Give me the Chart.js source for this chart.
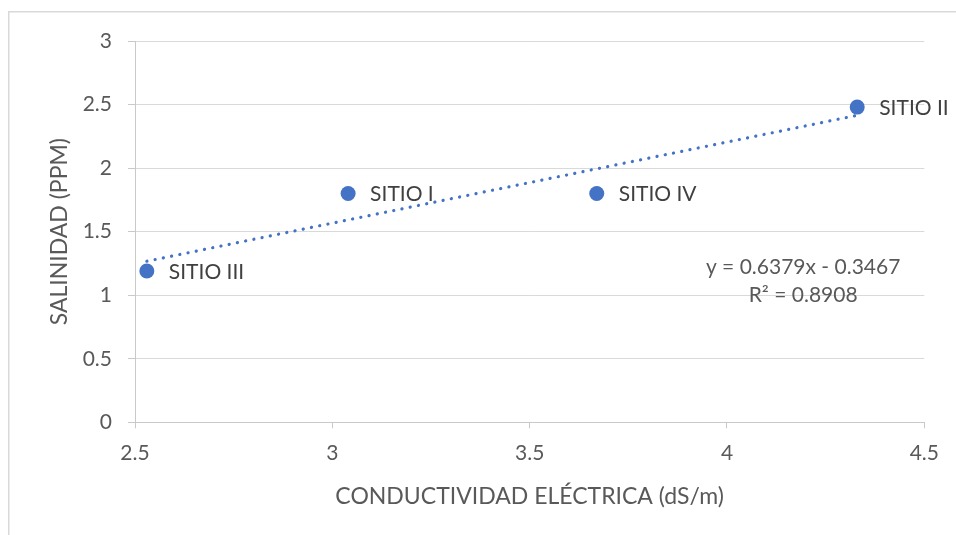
<!DOCTYPE html>
<html>
<head>
<meta charset="utf-8">
<script src="https://cdn.jsdelivr.net/npm/chart.js@4/dist/chart.umd.min.js"></script>
<style>
  html, body { margin: 0; padding: 0; background: #ffffff; }
  canvas { display: block; }
</style>
</head>
<body>
<canvas id="chart" width="956" height="535"></canvas>
<script>
// Sampling sites: electrical conductivity (dS/m) vs salinity (ppm)
const siteNames = ['SITIO I', 'SITIO II', 'SITIO III', 'SITIO IV'];
const conductivity = [3.04, 4.33, 2.53, 3.67];
const salinity = [1.80, 2.48, 1.19, 1.80];

// Linear trendline as reported on the chart
const trendSlope = 0.6379;
const trendIntercept = -0.3467;
const trendR2 = 0.8908;

// Axis ranges and tick steps
const xRange = [2.5, 4.5];
const yRange = [0, 3];
const xStep = 0.5;
const yStep = 0.5;

const FONT = 'Lato';
const INK = '#595959';
const LABEL_INK = '#404040';
const GRID = '#d9d9d9';
const AXIS = '#c9c9c9';
const MARKER = '#4472C4';

const points = conductivity.map((x, i) => ({ x: x, y: salinity[i] }));
const xMin = Math.min(...conductivity);
const xMax = Math.max(...conductivity);
const trendPoints = [xMin, xMax].map(x => ({ x: x, y: trendSlope * x + trendIntercept }));

// Tick text without trailing zeros (3, 2.5, 2 ...)
const plainNumber = v => String(Number(Number(v).toFixed(2)));

// Light frame around the whole chart
const framePlugin = {
  id: 'frame',
  beforeDraw(chart) {
    const ctx = chart.ctx;
    ctx.save();
    ctx.fillStyle = '#ffffff';
    ctx.fillRect(0, 0, chart.width, chart.height);
    ctx.strokeStyle = '#d9d9d9';
    ctx.lineWidth = 1.5;
    ctx.strokeRect(8.75, 11.75, chart.width + 20, chart.height + 20);
    ctx.restore();
  }
};

// Site names to the right of each marker
const siteLabelPlugin = {
  id: 'siteLabels',
  afterDatasetsDraw(chart) {
    const meta = chart.getDatasetMeta(0);
    const ctx = chart.ctx;
    ctx.save();
    ctx.font = '21px ' + FONT;
    ctx.fillStyle = LABEL_INK;
    ctx.textAlign = 'left';
    ctx.textBaseline = 'middle';
    meta.data.forEach((pt, i) => {
      ctx.fillText(siteNames[i], pt.x + 22, pt.y + 1);
    });
    ctx.restore();
  }
};

// Trendline equation and R² anchored in data space
const equationAnchor = { x: 4.193, y: 1.22 };
const equationPlugin = {
  id: 'equation',
  afterDatasetsDraw(chart) {
    const { x, y } = chart.scales;
    const px = x.getPixelForValue(equationAnchor.x);
    const py = y.getPixelForValue(equationAnchor.y);
    const ctx = chart.ctx;
    const sign = trendIntercept < 0 ? ' - ' : ' + ';
    const line1 = 'y = ' + trendSlope.toFixed(4) + 'x' + sign + Math.abs(trendIntercept).toFixed(4);
    const line2 = 'R² = ' + trendR2.toFixed(4);
    ctx.save();
    ctx.font = '21px ' + FONT;
    ctx.fillStyle = INK;
    ctx.textAlign = 'center';
    ctx.textBaseline = 'middle';
    ctx.fillText(line1, px, py);
    ctx.fillText(line2, px, py + 28);
    ctx.restore();
  }
};

Chart.defaults.font.family = FONT;

new Chart(document.getElementById('chart'), {
  type: 'scatter',
  data: {
    datasets: [
      {
        label: 'Salinidad',
        data: points,
        order: 0,
        backgroundColor: MARKER,
        borderColor: MARKER,
        pointRadius: 7.5,
        pointHoverRadius: 7.5,
        pointBorderWidth: 0
      },
      {
        type: 'line',
        label: 'Lineal',
        data: trendPoints,
        order: 1,
        showLine: true,
        fill: false,
        borderColor: MARKER,
        borderWidth: 3.2,
        borderDash: [0.1, 8.3],
        borderCapStyle: 'round',
        pointRadius: 0,
        tension: 0
      }
    ]
  },
  options: {
    responsive: false,
    animation: false,
    devicePixelRatio: 1,
    layout: { padding: { left: 0, right: 31.7, top: 41, bottom: 0 } },
    plugins: {
      legend: { display: false },
      tooltip: { enabled: false }
    },
    scales: {
      x: {
        type: 'linear',
        min: xRange[0],
        max: xRange[1],
        afterFit(scale) { scale.height = 112.7; },
        ticks: {
          stepSize: xStep,
          color: INK,
          font: { size: 21, family: FONT },
          padding: 12,
          callback: plainNumber
        },
        grid: {
          drawOnChartArea: false,
          drawTicks: true,
          tickLength: 6,
          tickColor: AXIS
        },
        border: { display: true, color: AXIS, width: 1 },
        title: {
          display: true,
          text: 'CONDUCTIVIDAD ELÉCTRICA (dS/m)',
          color: INK,
          font: { size: 23, family: FONT },
          padding: { top: 0, bottom: 25 }
        }
      },
      y: {
        type: 'linear',
        min: yRange[0],
        max: yRange[1],
        afterFit(scale) { scale.width = 135; },
        ticks: {
          stepSize: yStep,
          color: INK,
          font: { size: 21, family: FONT },
          padding: 16,
          callback: plainNumber
        },
        grid: {
          color: GRID,
          lineWidth: 1,
          drawTicks: true,
          tickLength: 7,
          tickColor: AXIS
        },
        border: { display: true, color: AXIS, width: 1 },
        title: {
          display: true,
          text: 'SALINIDAD (PPM)',
          color: INK,
          font: { size: 23, family: FONT },
          padding: { top: 46, bottom: 0 }
        }
      }
    }
  },
  plugins: [framePlugin, siteLabelPlugin, equationPlugin]
});
</script>
</body>
</html>
